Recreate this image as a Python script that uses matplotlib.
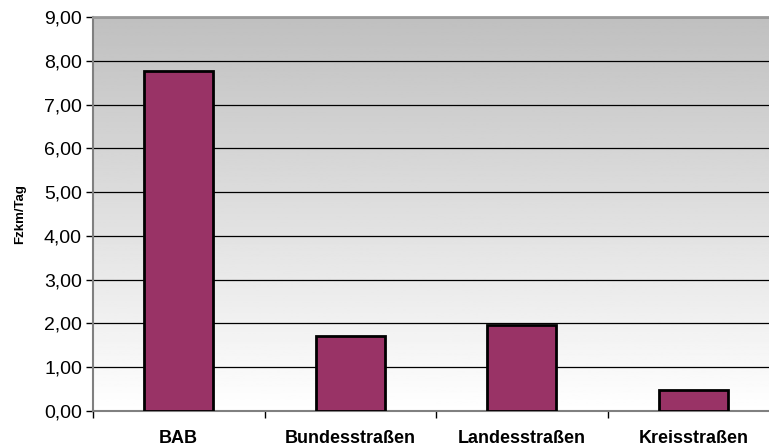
import numpy as np
import matplotlib
matplotlib.use("Agg")
import matplotlib.pyplot as plt
from matplotlib.ticker import FuncFormatter, FixedLocator

categories = ["BAB", "Bundesstraßen", "Landesstraßen", "Kreisstraßen"]
values = [7.77, 1.71, 1.96, 0.47]
y_label = "Fzkm/Tag"

plt.rcParams['font.family'] = ['Liberation Sans', 'DejaVu Sans']

fig = plt.figure(figsize=(7.69, 4.48), dpi=100)
ax = fig.add_axes([93 / 769, 37 / 448, 686 / 769, 394 / 448])

# gray (top) to white (bottom) gradient background
grad = np.linspace(0.75, 1.0, 256).reshape(-1, 1)
ax.imshow(grad, cmap="gray", vmin=0, vmax=1, aspect="auto",
          extent=[0, 1, 0, 1], transform=ax.transAxes, zorder=0)

x = np.arange(len(categories))
ax.bar(x, values, width=0.4, color="#993366", edgecolor="black",
       linewidth=2, zorder=3)

ax.set_xlim(-0.5, len(categories) - 0.5)
ax.set_ylim(0, 9)
ax.set_yticks(np.arange(0, 10, 1))
ax.yaxis.set_major_formatter(FuncFormatter(lambda v, p: f"{v:.2f}".replace(".", ",")))
ax.grid(axis="y", color="black", linewidth=0.9, zorder=1)
ax.set_axisbelow(True)

ax.set_xticks(x)
ax.set_xticklabels(categories, fontweight="bold", fontsize=13)
ax.tick_params(axis="x", length=0, pad=14)
ax.xaxis.set_minor_locator(FixedLocator(np.arange(-0.5, len(categories), 1)))
ax.tick_params(axis="x", which="minor", length=5, color="black", width=1)
ax.tick_params(axis="y", labelsize=14, length=5, width=1, pad=3)

for side in ["left", "bottom"]:
    ax.spines[side].set_color("#808080")
    ax.spines[side].set_linewidth(1.5)
ax.spines["top"].set_color("#999999")
ax.spines["top"].set_linewidth(2)
ax.spines["right"].set_visible(False)

ax.set_ylabel(y_label, fontsize=9.5, fontweight="bold", labelpad=13)

fig.savefig("out.png", dpi=100)
